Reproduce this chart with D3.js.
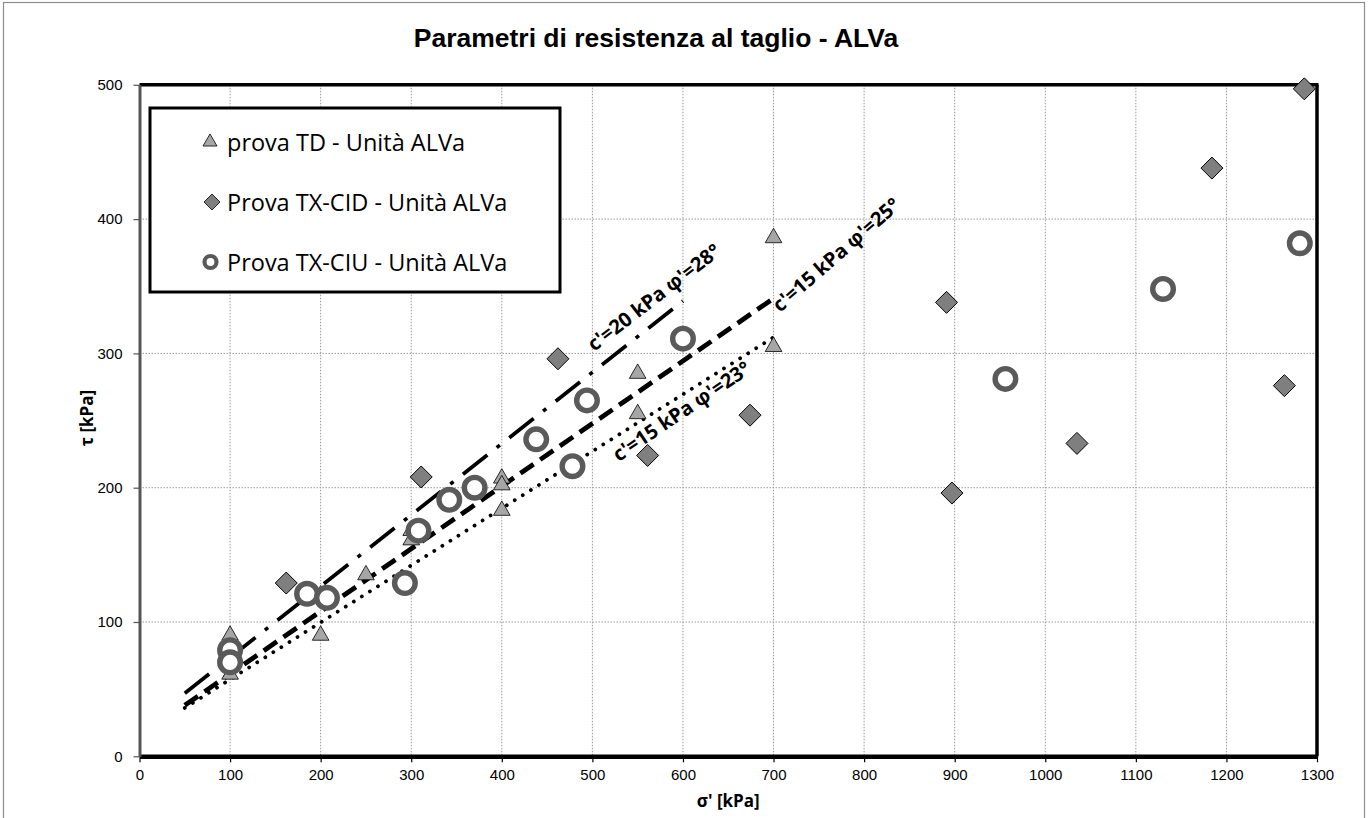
<!DOCTYPE html>
<html><head><meta charset="utf-8">
<script src="https://cdn.jsdelivr.net/npm/d3@7"></script>
<style>body{margin:0;background:#fff}</style>
</head><body>
<svg id="c" width="1371" height="818"></svg>
<script>
// ---- data ----
const xTicks=[0,100,200,300,400,500,600,700,800,900,1000,1100,1200,1300];
const yTicks=[0,100,200,300,400,500];
const tdSigma=[100,100,200,200,250,300,300,400,400,400,550,550,700,700];
const tdTau  =[90,61,120,90,135,161,168,207,202,183,285,255,386,305];
const cidSigma=[162,311,462,561,674,891,897,1035,1184,1264,1286];
const cidTau  =[129,208,296,224,254,338,196,233,438,276,497];
const ciuSigma=[100,100,185,207,293,308,342,370,438,478,494,600,956,1130,1281];
const ciuTau  =[79,70,121,118,129,168,191,200,236,216,265,311,281,348,382];
const env1Sigma=[50,600], env1Tau=[47,339];
const env2Sigma=[50,700], env2Tau=[38,341];
const env3Sigma=[50,700], env3Tau=[36,312];
const envLabels=["c'=20 kPa φ'=28°","c'=15 kPa φ'=25°","c'=15 kPa φ'=23°"];
const envLabelSigma=[502,707,529], envLabelTau=[301,330,219];
const legendLabels=["prova TD - Unità ALVa","Prova TX-CID - Unità ALVa","Prova TX-CIU - Unità ALVa"];
const titleText="Parametri di resistenza al taglio - ALVa";
const xTitle="σ' [kPa]", yTitle="τ [kPa]";

// ---- layout ----
const svg=d3.select("#c");
const x=d3.scaleLinear().domain([0,1300]).range([139.5,1317]);
const y=d3.scaleLinear().domain([0,500]).range([756.3,84.8]);
const L=x(0),R=x(1300),T=y(500),B=y(0);

svg.append("rect").attr("x",3.5).attr("y",2.5).attr("width",1361).attr("height",830)
  .attr("fill","#fff").attr("stroke","#8c8c8c").attr("stroke-width",1.2);

// title
svg.append("text").attr("x",656).attr("y",47).attr("text-anchor","middle")
  .attr("font-family","Liberation Sans, Arial").attr("font-weight","bold").attr("font-size",26.5)
  .text(titleText);

// grid
const g=svg.append("g");
g.selectAll(".gx").data(xTicks.filter(d=>d>0&&d<1300)).join("line")
  .attr("x1",d=>x(d)).attr("x2",d=>x(d)).attr("y1",T).attr("y2",B)
  .attr("stroke","#9a9a9a").attr("stroke-width",1).attr("stroke-dasharray","1.5,1.5");
g.selectAll(".gy").data(yTicks.filter(d=>d>0&&d<500)).join("line")
  .attr("y1",d=>y(d)).attr("y2",d=>y(d)).attr("x1",L).attr("x2",R)
  .attr("stroke","#9a9a9a").attr("stroke-width",1).attr("stroke-dasharray","1.5,1.5");

// frame top/right
svg.append("line").attr("x1",L).attr("x2",R+1.5).attr("y1",T).attr("y2",T).attr("stroke","#000").attr("stroke-width",3.5);
svg.append("line").attr("x1",R).attr("x2",R).attr("y1",T).attr("y2",B).attr("stroke","#000").attr("stroke-width",3.5);

// axes
const xa=svg.append("g").attr("transform",`translate(0,${B})`)
  .call(d3.axisBottom(x).tickValues(xTicks).tickSize(6).tickSizeOuter(0).tickFormat(d3.format("d")));
xa.select(".domain").attr("stroke","#000").attr("stroke-width",4.5);
xa.selectAll(".tick line").attr("stroke","#000").attr("stroke-width",1.2);
xa.selectAll(".tick text").attr("font-family","Liberation Sans, Arial").attr("font-size",15).attr("fill","#000").attr("dy","0.95em");

const ya=svg.append("g").attr("transform",`translate(${L},0)`)
  .call(d3.axisLeft(y).tickValues(yTicks).tickSize(6).tickSizeOuter(0).tickFormat(d3.format("d")));
ya.select(".domain").attr("stroke","#555").attr("stroke-width",3);
ya.selectAll(".tick line").attr("stroke","#555").attr("stroke-width",1.2);
ya.selectAll(".tick text").attr("font-family","Liberation Sans, Arial").attr("font-size",15).attr("fill","#000").attr("x",-17);

// axis titles
svg.append("text").attr("x",(L+R)/2).attr("y",807).attr("text-anchor","middle")
  .attr("font-family","Open Sans").attr("font-weight","bold").attr("font-size",17).text(xTitle);
svg.append("text").attr("transform","translate(93,418) rotate(-90)").attr("text-anchor","middle")
  .attr("font-family","Open Sans").attr("font-weight","bold").attr("font-size",17).text(yTitle);

// legend
const lg=svg.append("g");
lg.append("rect").attr("x",150).attr("y",108).attr("width",410).attr("height",184)
  .attr("fill","#fff").attr("stroke","#000").attr("stroke-width",3);
const rowY=[142,202,262];
lg.append("path").attr("d",d3.symbol().type(d3.symbolTriangle).size(85)()).attr("transform",`translate(210,${rowY[0]})`)
  .attr("fill","#a6a6a6").attr("stroke","#000").attr("stroke-width",0.8);
lg.append("path").attr("d","M0,-8L8,0L0,8L-8,0Z").attr("transform",`translate(212,${rowY[1]})`)
  .attr("fill","#7f7f7f").attr("stroke","#000").attr("stroke-width",0.8);
lg.append("circle").attr("cx",210.5).attr("cy",rowY[2]).attr("r",6)
  .attr("fill","#fff").attr("stroke","#595959").attr("stroke-width",4.2);
lg.selectAll("text").data(legendLabels).join("text")
  .attr("x",227).attr("y",(d,i)=>rowY[i]+8.5).attr("font-family","Open Sans").attr("font-size",23.5).text(d=>d);

// envelope lines
const line=d3.line();
function env(sx,sy,dash,w,cap){
  svg.append("path").attr("d",line(sx.map((s,i)=>[x(s),y(sy[i])])))
    .attr("fill","none").attr("stroke","#000").attr("stroke-width",w)
    .attr("stroke-dasharray",dash).attr("stroke-linecap",cap);
}
env(env1Sigma,env1Tau,"31,12,4,12",3.7,"butt");
env(env2Sigma,env2Tau,"16,8",4.8,"butt");
env(env3Sigma,env3Tau,"0.01,9.5",3.8,"round");

// markers
svg.append("g").selectAll("path").data(tdSigma).join("path")
  .attr("d",d3.symbol().type(d3.symbolTriangle).size(120)())
  .attr("transform",(d,i)=>`translate(${x(d)},${y(tdTau[i])})`)
  .attr("fill","#a6a6a6").attr("stroke","#000").attr("stroke-width",0.8);
svg.append("g").selectAll("path").data(cidSigma).join("path")
  .attr("d","M0,-11L11,0L0,11L-11,0Z")
  .attr("transform",(d,i)=>`translate(${x(d)},${y(cidTau[i])})`)
  .attr("fill","#7f7f7f").attr("stroke","#000").attr("stroke-width",1);
svg.append("g").selectAll("circle").data(ciuSigma).join("circle")
  .attr("cx",d=>x(d)).attr("cy",(d,i)=>y(ciuTau[i])).attr("r",10.3)
  .attr("fill","#fff").attr("stroke","#5a5a5a").attr("stroke-width",5.4);

// envelope labels
const rot=[-37.5,-41,-34];
svg.append("g").selectAll("text").data(envLabels).join("text")
  .attr("transform",(d,i)=>`translate(${x(envLabelSigma[i])},${y(envLabelTau[i])}) rotate(${rot[i]})`)
  .attr("font-family","Open Sans").attr("font-weight","bold").attr("font-size",20).text(d=>d);
</script>
</body></html>
